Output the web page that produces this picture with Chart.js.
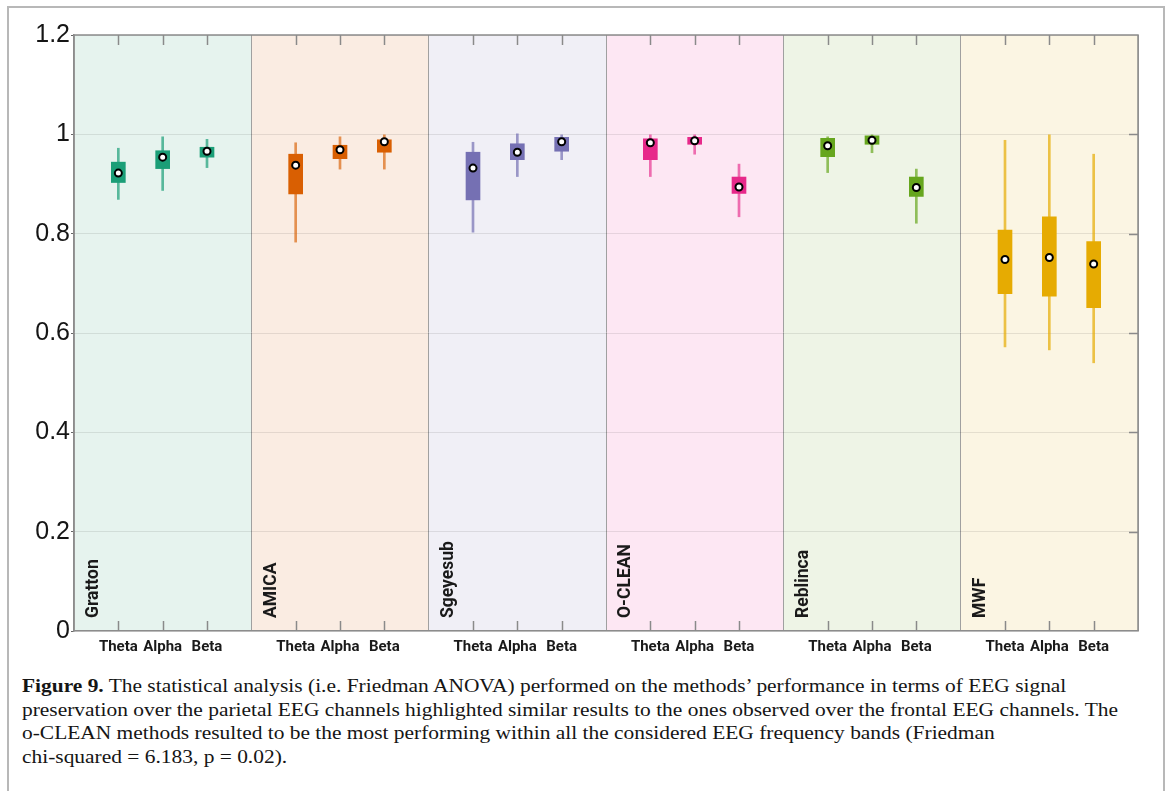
<!DOCTYPE html>
<html><head><meta charset="utf-8">
<script src="https://cdn.jsdelivr.net/npm/chart.js@4.4.1/dist/chart.umd.min.js"></script>
<style>
html,body{margin:0;padding:0;background:#fff;width:1167px;height:791px;overflow:hidden;}
#frame{position:absolute;left:7px;top:6px;width:1158px;height:830px;border:2px solid #b8b8b8;box-sizing:border-box;}
#wrap{position:absolute;left:0;top:0;width:1167px;height:670px;}
#caption{position:absolute;left:22px;top:674px;font-family:"Liberation Serif","DejaVu Serif",serif;font-size:19px;line-height:23.5px;color:#151515;white-space:nowrap;transform-origin:0 0;}
#caption div{display:block;}
</style></head><body>
<div id="frame"></div>
<div id="wrap"><canvas id="c" width="1167" height="670"></canvas></div>
<div id="caption">
<div id="l1"><b>Figure 9.</b> The statistical analysis (i.e. Friedman ANOVA) performed on the methods’ performance in terms of EEG signal</div>
<div id="l2">preservation over the parietal EEG channels highlighted similar results to the ones observed over the frontal EEG channels. The</div>
<div id="l3">o-CLEAN methods resulted to be the most performing within all the considered EEG frequency bands (Friedman</div>
<div id="l4">chi-squared = 6.183, p = 0.02).</div>
</div>
<script>
// ---- data ----
const methods = ['Gratton','AMICA','Sgeyesub','O-CLEAN','Reblinca','MWF'];
const bands = ['Theta','Alpha','Beta'];
const yTickValues = [0,0.2,0.4,0.6,0.8,1,1.2];
const yTickLabels = ['0','0.2','0.4','0.6','0.8','1','1.2'];
// per method: Theta, Alpha, Beta
const whiskerHigh = [0.972,0.995,0.990, 0.983,0.995,0.999, 0.984,1.001,0.999, 0.999,0.999,0.940, 0.995,0.999,0.930, 0.988,0.999,0.960];
const q3          = [0.944,0.967,0.974, 0.960,0.978,0.989, 0.964,0.981,0.994, 0.991,0.994,0.914, 0.992,0.997,0.914, 0.807,0.834,0.784];
const median      = [0.922,0.954,0.966, 0.938,0.969,0.985, 0.932,0.964,0.985, 0.983,0.987,0.894, 0.977,0.988,0.893, 0.748,0.752,0.739];
const q1          = [0.903,0.931,0.954, 0.880,0.951,0.964, 0.868,0.949,0.966, 0.949,0.980,0.881, 0.955,0.980,0.875, 0.679,0.674,0.651];
const whiskerLow  = [0.869,0.887,0.933, 0.783,0.930,0.930, 0.803,0.915,0.949, 0.915,0.960,0.834, 0.923,0.963,0.821, 0.572,0.566,0.540];

// ---- styles ----
const boxColors   = ['#1b9e77','#d95f02','#7570b3','#e7298a','#66a61e','#e6ab02'];
const whiskColors = ['rgba(27,158,119,0.7)','rgba(217,95,2,0.65)','rgba(117,112,179,0.7)','rgba(231,41,138,0.65)','rgba(102,166,30,0.7)','rgba(230,171,2,0.7)'];
const panelColors = ['#e6f3ee','#faece2','#f0eff6','#fde7f3','#eef4e6','#fbf5e3'];
const SLOTS = bands.length + 1;
const X_MAX = methods.length * SLOTS;

const posOf = (k) => Math.floor(k / bands.length) * SLOTS + (k % bands.length) + 1;
const mIdx = (k) => Math.floor(k / bands.length);

const boxData = median.map((_, k) => ({x: posOf(k), y: [q1[k], q3[k]]}));
const whiskData = median.map((_, k) => ({x: posOf(k), y: [whiskerLow[k], whiskerHigh[k]]}));
const medData = median.map((v, k) => ({x: posOf(k), y: v}));

const bgPlugin = {
  id: 'panels',
  beforeDraw(chart) {
    const {ctx, chartArea: a, scales: {x}} = chart;
    ctx.save();
    methods.forEach((m, i) => {
      const x0 = x.getPixelForValue(i * SLOTS), x1 = x.getPixelForValue((i + 1) * SLOTS);
      ctx.fillStyle = panelColors[i];
      ctx.fillRect(x0, a.top, x1 - x0, a.bottom - a.top);
    });
    ctx.restore();
  },
  afterDraw(chart) {
    const {ctx, chartArea: a, scales: {x, y}} = chart;
    ctx.save();
    // panel names
    ctx.fillStyle = '#1a1a1a';
    ctx.font = 'bold 17.5px Roboto';
    ctx.textAlign = 'left';
    ctx.textBaseline = 'middle';
    methods.forEach((m, i) => {
      const px = x.getPixelForValue(i * SLOTS) + 20;
      ctx.save();
      ctx.translate(px, a.bottom - 13);
      ctx.rotate(-Math.PI / 2);
      ctx.fillText(m, 0, 0);
      ctx.restore();
    });
    // inside ticks
    ctx.strokeStyle = '#8a8a8a';
    ctx.lineWidth = 1.5;
    ctx.beginPath();
    for (let v = 1; v < X_MAX; v++) {
      if (v % SLOTS === 0) continue;
      const px = Math.round(x.getPixelForValue(v)) + 0.5;
      ctx.moveTo(px, a.top); ctx.lineTo(px, a.top + 10);
      ctx.moveTo(px, a.bottom); ctx.lineTo(px, a.bottom - 10);
    }
    yTickValues.forEach(v => {
      if (v <= 0 || v >= 1.2) return;
      const py = Math.round(y.getPixelForValue(v)) + 0.5;
      ctx.moveTo(a.right, py); ctx.lineTo(a.right - 9, py);
    });
    ctx.stroke();
    // top & right border
    ctx.strokeStyle = '#8c8c8c';
    ctx.beginPath();
    ctx.moveTo(a.left, a.top); ctx.lineTo(a.right, a.top); ctx.lineTo(a.right, a.bottom);
    ctx.stroke();
    ctx.restore();
  }
};

new Chart(document.getElementById('c'), {
  type: 'bar',
  data: {
    datasets: [
      { type: 'scatter', data: medData, order: 0, pointRadius: 3.5, pointHoverRadius: 3.5,
        pointBackgroundColor: '#ffffff', pointBorderColor: '#000000', pointBorderWidth: 2 },
      { type: 'bar', data: boxData, order: 1, grouped: false, barThickness: 14,
        backgroundColor: boxData.map((_, k) => boxColors[mIdx(k)]), borderWidth: 0 },
      { type: 'bar', data: whiskData, order: 2, grouped: false, barThickness: 2,
        backgroundColor: whiskData.map((_, k) => whiskColors[mIdx(k)]), borderWidth: 0 }
    ]
  },
  options: {
    responsive: false,
    animation: false,
    layout: { padding: { top: 35, right: 29, left: 0, bottom: 0 } },
    plugins: { legend: { display: false }, tooltip: { enabled: false } },
    scales: {
      x: {
        type: 'linear', min: 0, max: X_MAX, offset: false,
        afterBuildTicks: (s) => { s.ticks = []; for (let v = 0; v <= X_MAX; v++) s.ticks.push({value: v}); },
        afterFit: (s) => { s.height = 39; },
        ticks: { autoSkip: false, maxRotation: 0, padding: 7, color: '#1a1a1a',
          font: { family: 'Roboto', weight: 'bold', size: 15 },
          callback: (v) => (v % SLOTS === 0 ? '' : bands[(v % SLOTS) - 1]) },
        grid: { drawTicks: false, lineWidth: 1, offset: false,
          color: (c) => (c.tick && c.tick.value % SLOTS === 0 ? '#a0a0a0' : 'rgba(0,0,0,0)') },
        border: { display: true, color: '#8c8c8c', width: 1.5 }
      },
      y: {
        min: 0, max: 1.2,
        afterBuildTicks: (s) => { s.ticks = yTickValues.map(v => ({value: v})); },
        afterFit: (s) => { s.width = 74; },
        ticks: { padding: 1, color: '#151515',
          font: { family: 'Liberation Sans', size: 25 },
          callback: (v, i) => yTickLabels[i] },
        grid: { color: 'rgba(0,0,0,0.09)', lineWidth: 1, tickLength: 3, tickColor: '#666' },
        border: { display: true, color: '#8c8c8c', width: 1.5 }
      }
    }
  },
  plugins: [bgPlugin]
});

// fit caption lines to the reference line width
(function(){
  const cap = document.getElementById('caption');
  const l2 = document.getElementById('l2');
  const w = l2.getBoundingClientRect().width;
  const sx = 1096 / w;
  cap.style.transform = 'scaleX(' + sx + ')';
})();
</script>
</body></html>
